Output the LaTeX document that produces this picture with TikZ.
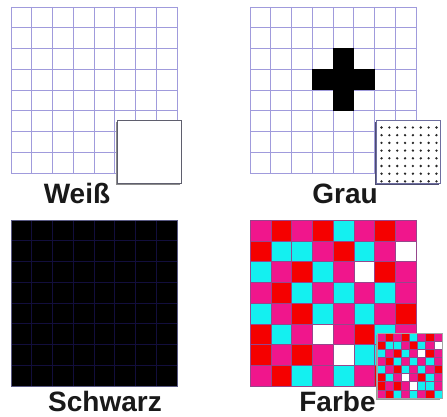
\documentclass[tikz,border=0pt]{standalone}
\usepackage{fontspec}
\setmainfont{Liberation Sans}
\definecolor{gridc}{RGB}{160,155,220}
\definecolor{cM}{RGB}{240,22,140}
\definecolor{cR}{RGB}{245,0,0}
\definecolor{cC}{RGB}{20,240,240}
\definecolor{cW}{RGB}{255,255,255}
\definecolor{darkline}{RGB}{18,14,60}
\definecolor{framec}{RGB}{95,95,110}
\definecolor{framegrau}{RGB}{110,110,160}
\definecolor{cellline}{RGB}{150,70,140}
\newcommand\drawpatt[3]{%
  \foreach \prow [count=\j from 0] in {%
    {cM,cR,cM,cR,cC,cM,cR,cM},%
    {cR,cC,cC,cM,cR,cC,cM,cW},%
    {cC,cM,cR,cC,cM,cW,cR,cM},%
    {cM,cR,cC,cM,cC,cM,cC,cM},%
    {cC,cM,cR,cC,cM,cC,cM,cR},%
    {cR,cC,cM,cW,cM,cR,cC,cM},%
    {cR,cM,cR,cM,cW,cC,cC,cM},%
    {cM,cR,cC,cM,cC,cM,cR,cC}}{%
    \foreach \pcol [count=\i from 0] in \prow {%
      \fill[\pcol] ({#1+\i*#3},{#2+\j*#3}) rectangle ++(#3,#3);
    }%
  }%
  \foreach \k in {0,...,8}{%
    \draw[cellline, line width=0.3pt] ({#1+\k*#3},#2) -- ++(0,{8*#3});
    \draw[cellline, line width=0.3pt] (#1,{#2+\k*#3}) -- ++({8*#3},0);
  }%
}
\newcommand\drawgridlines[4]{% x0 y0 cell colour
  \foreach \k in {0,...,8}{%
    \draw[#4, line width=0.8pt] ({#1+\k*#3},#2) -- ++(0,{8*#3});
    \draw[#4, line width=0.8pt] (#1,{#2+\k*#3}) -- ++({8*#3},0);
  }%
}
\tikzset{
  lbl/.style={font=\fontsize{28}{30}\selectfont\bfseries, text=black!90, anchor=base, inner sep=0pt},
  insetshadow/.style={fill=black!45},
}
\begin{document}
\begin{tikzpicture}[x=1pt,y=-1pt]
\useasboundingbox (0,0) rectangle (447,417);
\fill[white] (0,0) rectangle (447,417);

% ---------- Weiss ----------
\drawgridlines{11}{7}{20.75}{gridc}
\fill[insetshadow] (115.5,122.5) rectangle (179.5,184.5);
\draw[framec, fill=white, line width=1pt] (117,121) rectangle (181,183);
\node[lbl] (weiss) at (77,203) {Weiß};

% ---------- Grau ----------
\drawgridlines{250}{7}{20.75}{gridc}
\fill[black] (333,48.5) rectangle (353.75,110.75);
\fill[black] (312.25,69.25) rectangle (374.5,90);
\fill[framegrau!70!black] (374.5,122.5) rectangle (438.5,184.5);
\draw[framegrau, fill=white, line width=1pt] (376,121) rectangle (440,183);
\foreach \a in {0,...,7}{
  \foreach \b in {0,...,7}{
    \fill[black!85] ({381.5+\a*7.85},{127.5+\b*7.7}) circle (1.3pt);
  }
}
\node[lbl] (grau) at (345,203) {Grau};

% ---------- Schwarz ----------
\fill[black] (11,220) rectangle (177,386);
\drawgridlines{11}{220}{20.75}{darkline}
\draw[black!45!blue!30!gray, line width=0.6pt] (11,220) rectangle (177,386);
\node[lbl] (schwarz) at (105,411) {Schwarz};

% ---------- Farbe ----------
\drawpatt{250}{220}{20.75}
\fill[black!40] (375.5,334.5) rectangle (439.5,399.5);
\drawpatt{377}{333}{8.1}
\draw[black!35, line width=0.6pt] (377,333) rectangle ({377+8*8.1},{333+8*8.1});
\node[lbl] (farbe) at (337.5,411) {Farbe};
\end{tikzpicture}
\end{document}
